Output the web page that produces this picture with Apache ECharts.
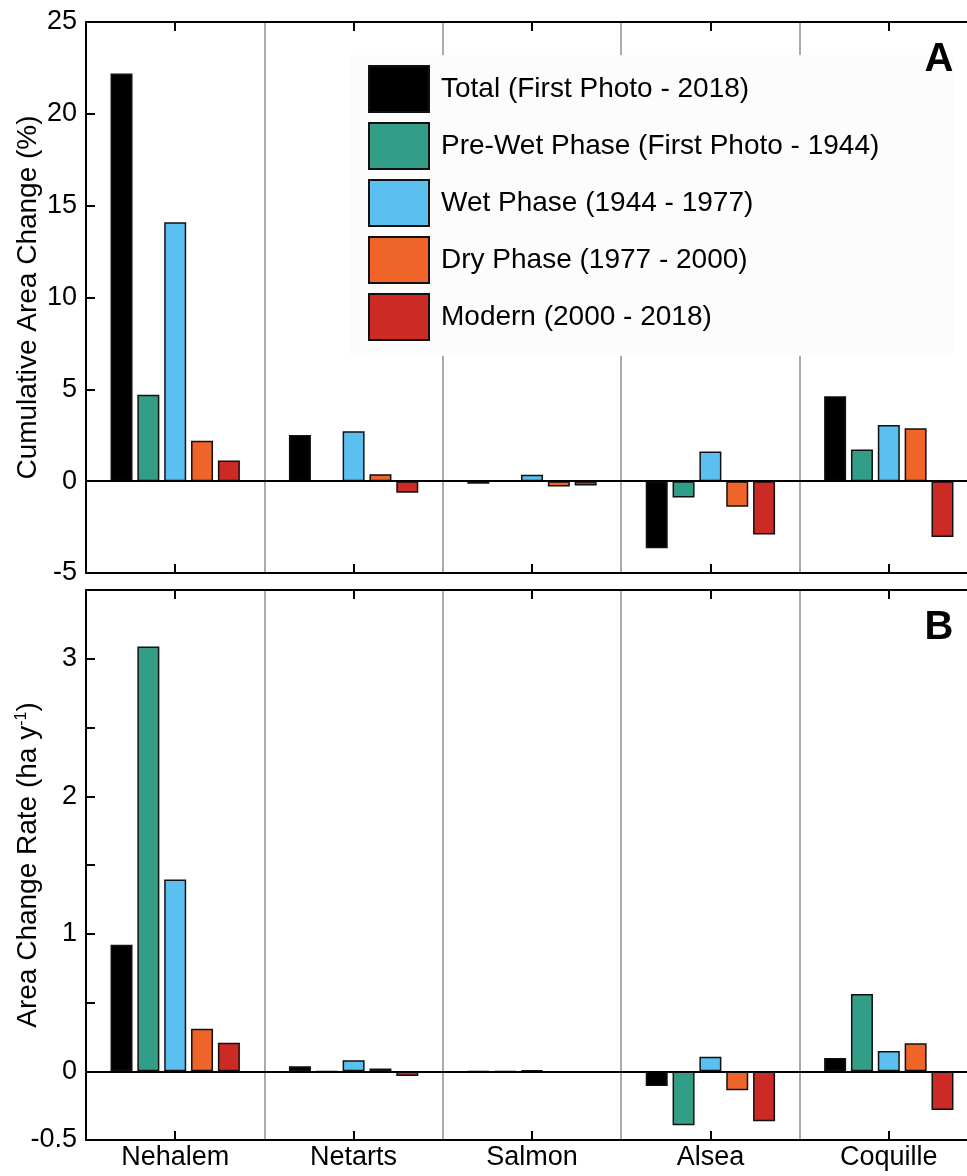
<!DOCTYPE html>
<html>
<head>
<meta charset="utf-8">
<title>Cumulative area change</title>
<script src="https://cdn.jsdelivr.net/npm/echarts@6/dist/echarts.min.js"></script>
<style>
  html, body { margin: 0; padding: 0; background: #fff; }
  #chart { width: 967px; height: 1176px; }
</style>
</head>
<body>
<div id="chart"></div>
<script>
// estuaries
var categories = ['Nehalem', 'Netarts', 'Salmon', 'Alsea', 'Coquille'];
var phaseNames = [
  'Total (First Photo - 2018)',
  'Pre-Wet Phase (First Photo - 1944)',
  'Wet Phase (1944 - 1977)',
  'Dry Phase (1977 - 2000)',
  'Modern (2000 - 2018)'
];
var phaseColors = ['#000000', '#339e87', '#5bc0ef', '#ee6429', '#cc2b25'];

// panel A: cumulative area change (%)
var cumTotal  = [22.2, 2.52, -0.14, -3.65, 4.63];
var cumPreWet = [4.7, 0.02, 0, -0.89, 1.73];
var cumWet    = [14.1, 2.72, 0.35, 1.61, 3.06];
var cumDry    = [2.2, 0.38, -0.29, -1.39, 2.88];
var cumModern = [1.13, -0.63, -0.24, -2.9, -3.04];

// panel B: area change rate (ha/y)
var rateTotal  = [0.92, 0.037, -0.004, -0.107, 0.097];
var ratePreWet = [3.09, -0.005, -0.003, -0.393, 0.561];
var rateWet    = [1.395, 0.08, 0.006, 0.106, 0.147];
var rateDry    = [0.31, 0.02, -0.008, -0.139, 0.203];
var rateModern = [0.208, -0.034, -0.008, -0.364, -0.281];

var cumSeries = [cumTotal, cumPreWet, cumWet, cumDry, cumModern];
var rateSeries = [rateTotal, ratePreWet, rateWet, rateDry, rateModern];

var FONT = "'Liberation Sans', Arial, Helvetica, sans-serif";

function xAxisBottom(gridIndex, showLabel) {
  return {
    type: 'category', gridIndex: gridIndex, position: 'bottom', data: categories,
    axisLine: { show: true, onZero: false, lineStyle: { color: '#000', width: 2 } },
    axisTick: { show: true, inside: true, alignWithLabel: true, length: 9, lineStyle: { color: '#000', width: 2 } },
    axisLabel: { show: showLabel, margin: 4, color: '#000', fontSize: 27, fontFamily: FONT },
    splitLine: { show: true, lineStyle: { color: '#aaa', width: 2 } }
  };
}
function xAxisTop(gridIndex) {
  return {
    type: 'category', gridIndex: gridIndex, position: 'top', data: categories,
    axisLine: { show: true, onZero: false, lineStyle: { color: '#000', width: 2 } },
    axisTick: { show: true, inside: true, alignWithLabel: true, length: 9, lineStyle: { color: '#000', width: 2 } },
    axisLabel: { show: false },
    splitLine: { show: false }
  };
}
function yAxis(gridIndex, pos, min, max, interval, extra) {
  var ax = {
    type: 'value', gridIndex: gridIndex, position: pos,
    min: min, max: max, interval: interval,
    axisLine: { show: true, onZero: false, lineStyle: { color: '#000', width: 2 } },
    axisTick: { show: true, inside: true, length: 9, lineStyle: { color: '#000', width: 2 } },
    axisLabel: { show: pos === 'left', margin: 9, color: '#000', fontSize: 27, fontFamily: FONT },
    splitLine: { show: false }
  };
  if (extra) Object.assign(ax, extra);
  return ax;
}

var series = [];
function addBars(data, idx, xi, yi) {
  var s = {
    name: phaseNames[idx], type: 'bar', xAxisIndex: xi, yAxisIndex: yi,
    data: data, barWidth: 22, barGap: '22%',
    itemStyle: { color: phaseColors[idx], borderColor: '#111', borderWidth: 1.5 }
  };
  if (idx === 0) {
    // zero line
    s.markLine = {
      silent: true, symbol: 'none', label: { show: false },
      lineStyle: { color: '#000', width: 2, type: 'solid' },
      data: [{ yAxis: 0 }]
    };
  }
  series.push(s);
}
cumSeries.forEach(function (d, i) { addBars(d, i, 0, 0); });
rateSeries.forEach(function (d, i) { addBars(d, i, 2, 2); });

var option = {
  backgroundColor: '#fff',
  animation: false,
  textStyle: { fontFamily: FONT },
  grid: [
    { left: 86, top: 22, width: 892, height: 551, outerBoundsMode: 'none', containLabel: false },
    { left: 86, top: 590, width: 892, height: 550, outerBoundsMode: 'none', containLabel: false }
  ],
  legend: {
    orient: 'vertical', left: 350, top: 55,
    padding: [10, 74, 15, 18],
    backgroundColor: '#fcfcfc',
    itemWidth: 60, itemHeight: 46, itemGap: 9,
    icon: 'rect',
    data: phaseNames,
    textStyle: { fontSize: 28, color: '#000', fontFamily: FONT, padding: [0, 0, 0, 7] }
  },
  xAxis: [xAxisBottom(0, false), xAxisTop(0), xAxisBottom(1, true), xAxisTop(1)],
  yAxis: [
    yAxis(0, 'left', -5, 25, 5, {
      name: 'Cumulative Area Change (%)', nameLocation: 'middle', nameGap: 44, nameMoveOverlap: false,
      nameTextStyle: { fontSize: 28, color: '#000', fontFamily: FONT }
    }),
    yAxis(0, 'right', -5, 25, 5),
    yAxis(1, 'left', -0.5, 3.5, 0.5, {
      name: '{n|Area Change Rate (ha y}{s|-1}{n|)}', nameLocation: 'middle', nameGap: 44, nameMoveOverlap: false,
      nameTextStyle: {
        fontSize: 28, color: '#000', fontFamily: FONT,
        rich: {
          n: { fontSize: 28, color: '#000', fontFamily: FONT },
          s: { fontSize: 16, color: '#000', fontFamily: FONT, verticalAlign: 'top' }
        }
      }
    }),
    yAxis(1, 'right', -0.5, 3.5, 0.5)
  ],
  series: series,
  graphic: [
    { type: 'text', z: 100, x: 939, y: 60, style: { text: 'A', font: 'bold 40px ' + FONT, fill: '#000', textAlign: 'center', textVerticalAlign: 'middle' } },
    { type: 'text', z: 100, x: 939, y: 628, style: { text: 'B', font: 'bold 40px ' + FONT, fill: '#000', textAlign: 'center', textVerticalAlign: 'middle' } }
  ]
};

// label only the whole numbers (and -0.5) on the rate axis
option.yAxis[2].axisLabel.formatter = function (v) {
  if (Math.abs(v - Math.round(v)) < 1e-9 || Math.abs(v + 0.5) < 1e-9) return String(v);
  return '';
};

var myChart = echarts.init(document.getElementById('chart'));
myChart.setOption(option);
</script>
</body>
</html>
